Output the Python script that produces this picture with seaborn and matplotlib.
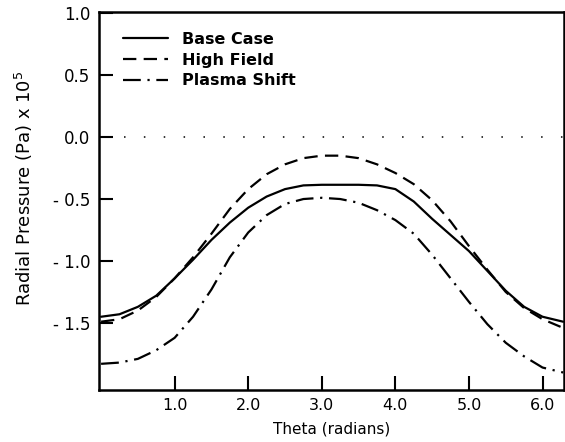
import matplotlib
matplotlib.use("Agg")
import matplotlib.pyplot as plt
import seaborn as sns
import numpy as np
import pandas as pd

# values
theta = [0, 0.25, 0.5, 0.75, 1.0, 1.25, 1.5, 1.75, 2.0, 2.25, 2.5, 2.75, 3.0,
         3.25, 3.5, 3.75, 4.0, 4.25, 4.5, 4.75, 5.0, 5.25, 5.5, 5.75, 6.0, 6.28]
base_case = [-1.45, -1.43, -1.37, -1.28, -1.14, -0.99, -0.83, -0.69, -0.57, -0.48,
             -0.42, -0.39, -0.385, -0.385, -0.385, -0.39, -0.42, -0.52, -0.66, -0.79,
             -0.92, -1.08, -1.24, -1.37, -1.45, -1.49]
high_field = [-1.49, -1.47, -1.40, -1.29, -1.14, -0.97, -0.78, -0.58, -0.42, -0.30,
              -0.22, -0.17, -0.15, -0.15, -0.17, -0.22, -0.29, -0.38, -0.51, -0.68,
              -0.88, -1.07, -1.25, -1.38, -1.47, -1.54]
plasma_shift = [-1.83, -1.82, -1.79, -1.72, -1.62, -1.45, -1.23, -0.97, -0.77, -0.63,
                -0.54, -0.50, -0.49, -0.50, -0.53, -0.59, -0.67, -0.78, -0.95, -1.14,
                -1.33, -1.51, -1.66, -1.77, -1.86, -1.90]
labels = ["Base Case", "High Field", "Plasma Shift"]
xticks = [1.0, 2.0, 3.0, 4.0, 5.0, 6.0]
yticks = [1.0, 0.5, 0.0, -0.5, -1.0, -1.5]

df = pd.concat([
    pd.DataFrame({"theta": theta, "p": vals, "case": lab})
    for lab, vals in zip(labels, [base_case, high_field, plasma_shift])
])

sns.set_style("ticks")
plt.rcParams["font.family"] = ["DejaVu Sans"]
for k in ["text.color", "axes.labelcolor", "xtick.color", "ytick.color", "axes.edgecolor"]:
    plt.rcParams[k] = "black"

fig = plt.figure(figsize=(5.65, 4.42), dpi=100)
ax = fig.add_axes([0.175, 0.118, 0.823, 0.855])

sns.lineplot(data=df, x="theta", y="p", style="case", color="black",
             dashes={"Base Case": "", "High Field": (6, 3.3), "Plasma Shift": (8, 3, 1, 3)},
             linewidth=1.6, ax=ax)

# dotted zero line
ax.axhline(0, xmin=0.055, xmax=1, color="black", lw=1.1, linestyle=(0, (1, 12)))

ax.set_xlim(-0.03, 6.29)
ax.set_ylim(-2.04, 1.01)
ax.set_xticks(xticks)
ax.set_xticklabels([f"{t:.1f}" for t in xticks])
ax.set_yticks(yticks)
ax.set_yticklabels([f"{t:.1f}".replace("-", "- ") for t in yticks])
ax.tick_params(direction="in", length=10, width=1.5, pad=6)
ax.tick_params(axis="x", labelsize=11.5)
ax.tick_params(axis="y", labelsize=12)
for s in ax.spines.values():
    s.set_linewidth(1.8)

ax.set_xlabel("Theta (radians)", fontsize=11, labelpad=6)
ax.set_ylabel("Radial Pressure (Pa) x 10$^5$", fontsize=13)
ax.yaxis.set_label_coords(-0.137, 0.534)

leg = ax.legend(loc="upper left", bbox_to_anchor=(0.052, 0.947), frameon=False,
                borderaxespad=0, borderpad=0,
                handlelength=2.8, handletextpad=0.87, labelspacing=0.35,
                prop={"size": 11.5, "weight": "bold"})

fig.savefig("out.png", dpi=100)
